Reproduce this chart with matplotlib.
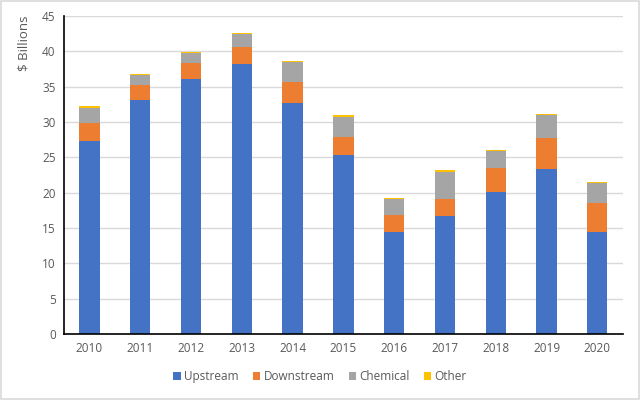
import matplotlib.pyplot as plt
import numpy as np
from matplotlib.patches import Rectangle

years = ['2010', '2011', '2012', '2013', '2014', '2015',
         '2016', '2017', '2018', '2019', '2020']
upstream = [27.3, 33.05, 36.1, 38.2, 32.7, 25.35, 14.45, 16.65, 20.1, 23.4, 14.4]
downstream = [2.5, 2.15, 2.3, 2.4, 3.0, 2.55, 2.45, 2.5, 3.4, 4.4, 4.2]
chemical = [2.25, 1.45, 1.3, 1.85, 2.75, 2.85, 2.25, 3.8, 2.35, 3.15, 2.7]
other = [0.2, 0.2, 0.2, 0.2, 0.15, 0.2, 0.15, 0.2, 0.15, 0.2, 0.2]

series = [('Upstream', upstream, '#4472C4'),
          ('Downstream', downstream, '#ED7D31'),
          ('Chemical', chemical, '#A5A5A5'),
          ('Other', other, '#FFC000')]

plt.rcParams['font.family'] = ['Open Sans', 'DejaVu Sans']

fig = plt.figure(figsize=(6.4, 4.0), dpi=100)
ax = fig.add_axes([0.1, 0.165, 0.873, 0.795])

x = np.arange(len(years))
bottom = np.zeros(len(years))
for name, vals, col in series:
    vals = np.array(vals)
    ax.bar(x, vals, 0.4, bottom=bottom, color=col, label=name, zorder=3)
    bottom += vals

ax.set_ylim(0, 45)
ax.set_yticks(range(0, 46, 5))
ax.set_xlim(-0.5, len(years) - 0.5)
ax.set_xticks(x)
ax.set_xticklabels(years)
ax.yaxis.grid(True, color='#D9D9D9', linewidth=1, zorder=0)
ax.tick_params(length=0, labelsize=8.5, labelcolor='#595959', pad=6)

for s in ['top', 'right']:
    ax.spines[s].set_visible(False)
for s in ['left', 'bottom']:
    ax.spines[s].set_color('black')
    ax.spines[s].set_linewidth(1.2)
    ax.spines[s].set_zorder(4)

ax.set_ylabel('$ Billions', loc='top', fontsize=9.5, color='#595959', labelpad=8)

fig.legend(loc='lower center', bbox_to_anchor=(0.5, 0.015), ncol=4,
           frameon=False, fontsize=8.5, labelcolor='#595959',
           handlelength=0.6, handleheight=0.6, handletextpad=0.3,
           columnspacing=1.2)

fig.patches.append(Rectangle((0.001, 0.002), 0.997, 0.995, transform=fig.transFigure,
                             fill=False, edgecolor='#D9D9D9', linewidth=1.2))

fig.savefig('out.png', dpi=100)
